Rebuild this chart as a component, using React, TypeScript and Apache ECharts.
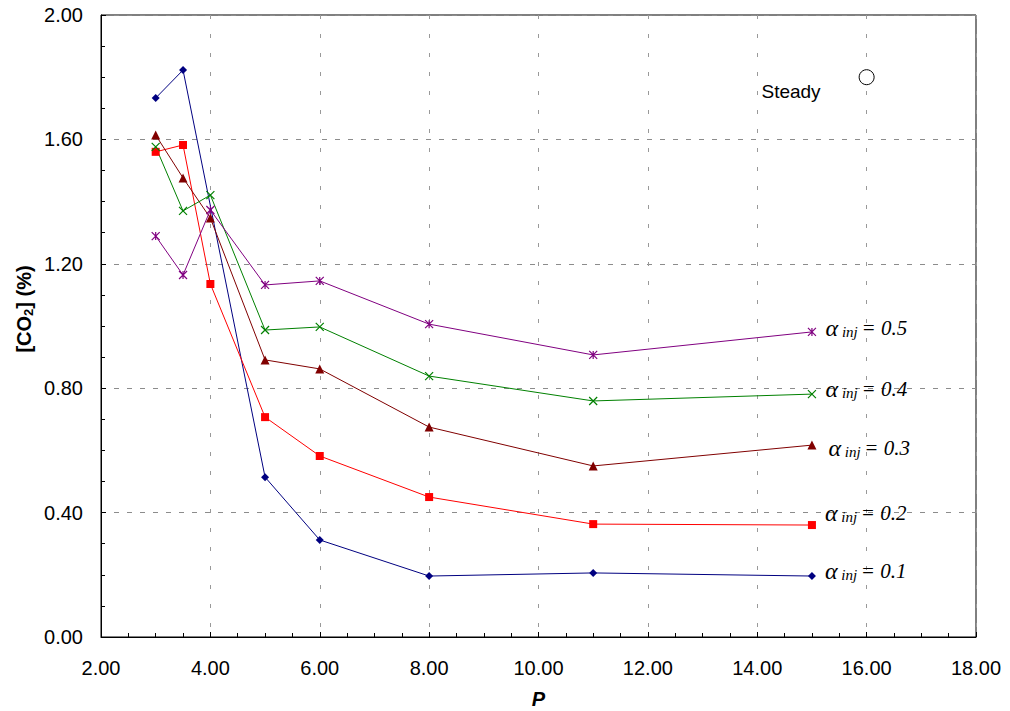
import React, { useEffect, useRef } from "react";
import * as echarts from "echarts";

// P values for each series
const pAll = [3, 3.5, 4, 5, 6, 8, 11, 15];
const pBlue = [3, 3.5, 5, 6, 8, 11, 15];

// [CO2] (%) values
const alpha01 = [1.733, 1.823, 0.514, 0.312, 0.196, 0.206, 0.196];
const alpha02 = [1.56, 1.582, 1.135, 0.707, 0.582, 0.45, 0.363, 0.36];
const alpha03 = [1.614, 1.476, 1.347, 0.891, 0.862, 0.675, 0.55, 0.617];
const alpha04 = [1.576, 1.37, 1.421, 0.987, 0.997, 0.839, 0.759, 0.781];
const alpha05 = [1.289, 1.164, 1.373, 1.132, 1.145, 1.006, 0.907, 0.981];

const steadyP = 16;
const steadyCO2 = 1.8;

const labelNames = ["0.1", "0.2", "0.3", "0.4", "0.5"];

const X_PATH = "path://M0,0L10,10M10,0L0,10";
const STAR_PATH = "path://M0,0L10,10M10,0L0,10M5,0L5,10";

const rich = {
  a: { fontFamily: "Liberation Serif", fontStyle: "italic", fontSize: 24, color: "#000" },
  s: { fontFamily: "Liberation Serif", fontStyle: "italic", fontSize: 15, color: "#000", padding: [8, 0, 0, 0] },
  e: { fontFamily: "Liberation Serif", fontStyle: "italic", fontSize: 21, color: "#000" },
};

function makeSeries(
  xs: number[],
  ys: number[],
  color: string,
  symbol: string,
  symbolSize: number,
  label: string,
  offset: number[],
  stroke: boolean
) {
  const data = xs.map((x, i) => {
    const item: any = { value: [x, ys[i]] };
    if (i === xs.length - 1) {
      item.label = {
        show: true,
        position: "right",
        distance: 9,
        offset,
        formatter: `{a|α}{s| inj }{e|= ${label}}`,
        rich,
      };
    }
    return item;
  });
  return {
    type: "line",
    data,
    symbol,
    symbolSize,
    showAllSymbol: true,
    lineStyle: { color, width: 1 },
    itemStyle: stroke
      ? { color: "rgba(0,0,0,0)", borderColor: color, borderWidth: 1.2 }
      : { color, borderColor: color, borderWidth: 0 },
    emphasis: { disabled: true },
    z: 3,
  };
}

export default function App() {
  const ref = useRef<HTMLDivElement>(null);
  useEffect(() => {
    if (!ref.current) return;
    const chart = echarts.init(ref.current, null, { renderer: "svg" });
    const axisFont = { fontFamily: "Liberation Sans", fontSize: 20, color: "#000" };
    chart.setOption({
      animation: false,
      backgroundColor: "#fff",
      grid: {
        left: 101,
        right: 34,
        top: 15,
        bottom: 74,
        outerBoundsMode: "none",
        containLabel: false,
        show: true,
        borderColor: "#000",
        borderWidth: 1,
        backgroundColor: "transparent",
      },
      xAxis: {
        type: "value",
        min: 2,
        max: 18,
        interval: 2,
        name: "P",
        nameLocation: "middle",
        nameGap: 52,
        nameTextStyle: {
          fontFamily: "Liberation Sans",
          fontSize: 20,
          fontWeight: "bold",
          fontStyle: "italic",
          color: "#000",
        },
        axisLine: { show: true, lineStyle: { color: "#000", width: 1 } },
        axisTick: { show: true, inside: true, length: 5, lineStyle: { color: "#000" } },
        minorTick: { show: true, splitNumber: 4, length: 4, lineStyle: { color: "#000" } },
        axisLabel: {
          ...axisFont,
          margin: 21,
          formatter: (v: number) => v.toFixed(2),
        },
        splitLine: {
          show: true,
          lineStyle: { color: "#999", type: [4, 15] as any, width: 1 },
        },
      },
      yAxis: {
        type: "value",
        min: 0,
        max: 2,
        interval: 0.4,
        axisLine: { show: true, lineStyle: { color: "#000", width: 1 } },
        axisTick: { show: true, inside: true, length: 5, lineStyle: { color: "#000" } },
        minorTick: { show: true, splitNumber: 4, length: 4, lineStyle: { color: "#000" } },
        axisLabel: {
          ...axisFont,
          margin: 18,
          formatter: (v: number) => v.toFixed(2),
        },
        splitLine: {
          show: true,
          lineStyle: { color: "#8c8c8c", type: [5, 8] as any, width: 1 },
        },
      },
      graphic: [
        {
          type: "text",
          x: 24,
          y: 309,
          rotation: Math.PI / 2,
          style: {
            text: "{b|[CO}{sub|2}{b|] (%)}",
            align: "center",
            verticalAlign: "middle",
            rich: {
              b: { fontFamily: "Liberation Sans", fontWeight: "bold", fontSize: 20, fill: "#000" },
              sub: {
                fontFamily: "Liberation Sans",
                fontWeight: "bold",
                fontSize: 13,
                fill: "#000",
                padding: [8, 0, 0, 0],
              },
            },
          },
        },
      ],
      series: [
        makeSeries(pBlue, alpha01, "#000080", "diamond", 8, labelNames[0], [0, -5], false),
        makeSeries(pAll, alpha02, "#ff0000", "rect", 8, labelNames[1], [0, -12], false),
        makeSeries(pAll, alpha03, "#800000", "triangle", 9, labelNames[2], [3, 3], false),
        makeSeries(pAll, alpha04, "#008000", X_PATH, 8, labelNames[3], [0, -5], true),
        makeSeries(pAll, alpha05, "#800080", STAR_PATH, 8, labelNames[4], [0, -4], true),
        {
          type: "scatter",
          data: [[steadyP, steadyCO2]],
          symbol: "circle",
          symbolSize: 15,
          itemStyle: { color: "#ffffff", borderColor: "#000000", borderWidth: 1, opacity: 1 },
          label: {
            show: true,
            position: "left",
            distance: 38,
            offset: [0, 14],
            formatter: "Steady",
            fontFamily: "Liberation Sans",
            fontSize: 19,
            color: "#000",
          },
          emphasis: { disabled: true },
          z: 4,
        },
      ],
    });
    return () => chart.dispose();
  }, []);
  return (
    <div
      ref={ref}
      style={{ position: "absolute", left: 0, top: 0, width: 1010, height: 711, background: "#fff" }}
    />
  );
}
